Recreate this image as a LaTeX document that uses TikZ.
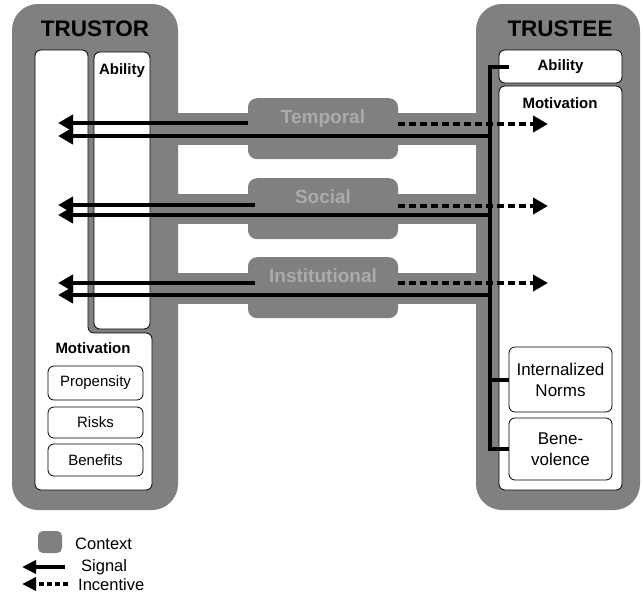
\documentclass[tikz,border=0pt]{standalone}
\usepackage{fontspec}
\setmainfont{Liberation Sans}
\usetikzlibrary{arrows.meta,calc}

\definecolor{ctxgray}{HTML}{808080}
\definecolor{ctxtext}{HTML}{ABABAB}

\newcommand\trtitlefont{\bfseries\fontsize{22.5}{27}\selectfont}
\newcommand\trheadfont{\bfseries\fontsize{15}{18}\selectfont}
\newcommand\tritemfont{\fontsize{15}{18}\selectfont}
\newcommand\trteefont{\fontsize{17}{21}\selectfont}
\newcommand\trctxfont{\bfseries\fontsize{19}{23}\selectfont}
\newcommand\trlegfont{\fontsize{16.5}{20}\selectfont}

\tikzset{
  party/.style={rectangle, rounded corners=26pt, fill=ctxgray, inner sep=0pt},
  wbox/.style={rectangle, rounded corners=6pt, draw, fill=white, line width=0.8pt, inner sep=0pt},
  ctxbox/.style={rectangle, rounded corners=9pt, fill=ctxgray, inner sep=0pt,
    minimum width=150pt, text height=25pt, text depth=36pt, text=ctxtext, font=\trctxfont},
  lbl/.style={inner sep=0pt},
  signal/.style={line width=4.5pt, -{Triangle[length=15pt,width=16pt]}},
  incentive/.style={line width=4.5pt, dash pattern=on 7pt off 4pt, -{Triangle[length=15pt,width=16pt]}},
  spine/.style={line width=4pt},
  legsignal/.style={line width=3.5pt, -{Triangle[length=14pt,width=13pt]}},
  legincentive/.style={line width=3.5pt, dash pattern=on 5pt off 3pt, -{Triangle[length=14pt,width=13pt]}},
}

\begin{document}
\begin{tikzpicture}[x=1pt, y=-1pt]
    \useasboundingbox (0,0) rectangle (643,597);

    % context bars between the two parties
    \fill[ctxgray] (170,113) rectangle (485,145);
    \fill[ctxgray] (170,194) rectangle (485,224);
    \fill[ctxgray] (170,273) rectangle (485,304);

    \node at (95,257) [party, minimum width=166pt, minimum height=506pt] (tor) {};
    \node at (558,257) [party, minimum width=164pt, minimum height=506pt] (tee) {};
    \node at (95,29) [lbl, font=\trtitlefont] (tortitle) {TRUSTOR};
    \node at (560,29) [lbl, font=\trtitlefont] (teetitle) {TRUSTEE};

    % trustor
    \draw[line width=0.8pt, fill=white, rounded corners=6pt]
        (60,490) -- (35,490) -- (35,50) -- (88,50) -- (88,333) -- (152,333) -- (152,490) -- cycle;
    \node at (122,190.5) [wbox, minimum width=56pt, minimum height=277pt] (torabil) {};
    \node at (122,74) [lbl, anchor=base, font=\trheadfont] (torabiltext) {Ability};
    \node at (93,353) [lbl, anchor=base, font=\trheadfont] (tormottext) {Motivation};
    \node at (95.5,383) [wbox, minimum width=95pt, minimum height=34pt, font=\tritemfont] (propensity) {Propensity};
    \node at (95.5,422.5) [wbox, minimum width=95pt, minimum height=31pt, font=\tritemfont] (risks) {Risks};
    \node at (95.5,460) [wbox, minimum width=95pt, minimum height=32pt, font=\tritemfont] (benefits) {Benefits};
    \coordinate (recv) at (58,0);

    % trustee
    \node at (560.5,66.5) [wbox, minimum width=123pt, minimum height=33pt, font=\trheadfont] (teeabil) {Ability};
    \node at (560.5,288) [wbox, minimum width=123pt, minimum height=404pt] (teemot) {};
    \node at (560,108) [lbl, anchor=base, font=\trheadfont] (teemottext) {Motivation};
    \node at (560.5,379.5) [wbox, minimum width=103pt, minimum height=65pt, align=center, font=\trteefont] (norms) {Internalized\\Norms};
    \node at (560.5,449) [wbox, minimum width=103pt, minimum height=62pt, align=center, font=\trteefont] (bene) {Bene-\\volence};
    \coordinate (spine) at (490,0);
    \coordinate (itip) at (548,0);

    % contexts
    \node at (323,98) [ctxbox, anchor=north] (temporal) {Temporal};
    \node at (323,178) [ctxbox, anchor=north] (social) {Social};
    \node at (323,257) [ctxbox, anchor=north] (institutional) {Institutional};

    \draw[spine] ($(teeabil.west)+(10,0)$) -| (spine |- bene.west) -- (bene.west);
    \draw[spine] (spine |- norms.west) -- (norms.west);

    \draw[signal] ($(temporal.north west)+(0,25)$) -- ($(temporal.north -| recv)+(0,25)$);
    \draw[signal] ($(temporal.north -| spine)+(0,38)$) -- ($(temporal.north -| recv)+(0,38)$);
    \draw[incentive] ($(temporal.north east)+(0,26)$) -- ($(temporal.north -| itip)+(0,26)$);

    \draw[signal] ($(social.north west)+(7,27)$) -- ($(social.north -| recv)+(0,27)$);
    \draw[signal] ($(social.north -| spine)+(0,37)$) -- ($(social.north -| recv)+(0,37)$);
    \draw[incentive] ($(social.north east)+(0,28)$) -- ($(social.north -| itip)+(0,28)$);

    \draw[signal] ($(institutional.north west)+(7,26)$) -- ($(institutional.north -| recv)+(0,26)$);
    \draw[signal] ($(institutional.north -| spine)+(0,38)$) -- ($(institutional.north -| recv)+(0,38)$);
    \draw[incentive] ($(institutional.north east)+(0,26)$) -- ($(institutional.north -| itip)+(0,26)$);

    % legend
    \node at (50,542) [rectangle, rounded corners=5pt, fill=ctxgray, minimum width=24pt, minimum height=22pt] (legctx) {};
    \node at (75,549) [lbl, anchor=base west, font=\trlegfont] (legctxtext) {Context};
    \coordinate (sigtail) at (65,567);
    \coordinate (sighead) at (22,567);
    \node at (81,571) [lbl, anchor=base west, font=\trlegfont] (legsigtext) {Signal};
    \coordinate (inctail) at (68,584);
    \coordinate (inchead) at (22,584);
    \node at (78,590) [lbl, anchor=base west, font=\trlegfont] (leginctext) {Incentive};
    \draw[legsignal] (sigtail) -- (sighead);
    \draw[legincentive] (inctail) -- (inchead);
\end{tikzpicture}
\end{document}
